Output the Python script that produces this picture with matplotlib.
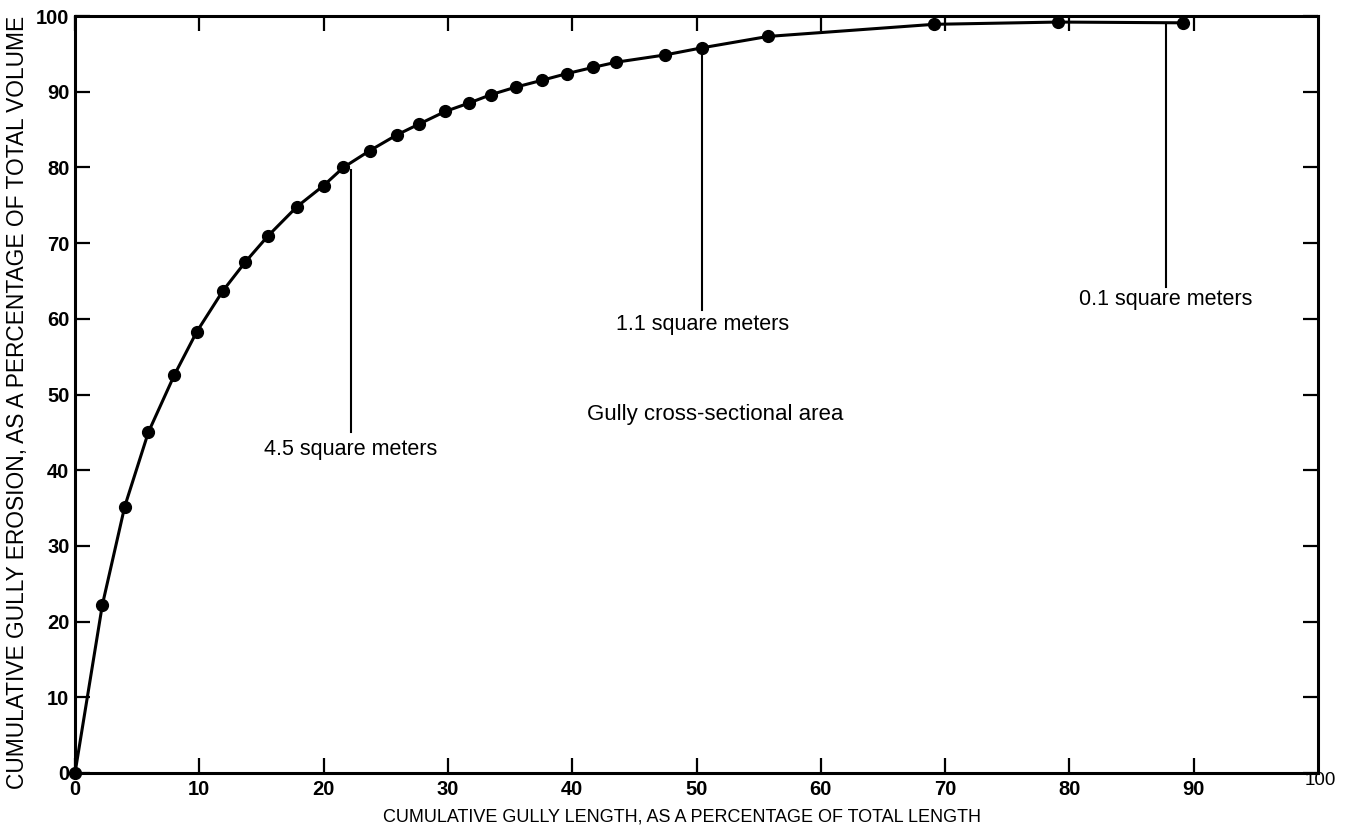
import matplotlib
matplotlib.use('Agg')
import matplotlib.pyplot as plt

# cumulative gully length (%) and cumulative erosion (%)
length_pct = [0, 2.2, 4.0, 5.9, 8.0, 9.8, 11.9, 13.7, 15.5, 17.85, 20.0, 21.6,
              23.7, 25.9, 27.65, 29.8, 31.7, 33.45, 35.45, 37.55, 39.6, 41.65,
              43.55, 47.45, 50.45, 55.75, 69.1, 79.1, 89.1]
erosion_pct = [0, 22.2, 35.2, 45.0, 52.6, 58.3, 63.7, 67.5, 70.9, 74.8, 77.6, 80.0,
               82.2, 84.3, 85.7, 87.4, 88.5, 89.6, 90.6, 91.5, 92.4, 93.2,
               93.9, 94.85, 95.8, 97.3, 98.9, 99.2, 99.1]

# annotation leaders: x position, top, bottom, label, label y
ann_x = [22.2, 50.45, 87.75]
ann_top = [79.6, 95.4, 98.8]
ann_bottom = [45.0, 61.2, 64.2]
ann_text = ['4.5 square meters', '1.1 square meters', '0.1 square meters']
ann_text_y = [42.8, 59.3, 62.5]

ticks = [0, 10, 20, 30, 40, 50, 60, 70, 80, 90]

sans = ['Liberation Sans', 'DejaVu Sans']

fig = plt.figure(figsize=(13.48, 8.35), dpi=100)
ax = fig.add_axes([75 / 1348, 62 / 835, 1243 / 1348, 757 / 835])

ax.plot(length_pct, erosion_pct, color='black', lw=2.2, marker='o', ms=8.5,
        clip_on=False, zorder=3)

for x, top, bot, txt, ty in zip(ann_x, ann_top, ann_bottom, ann_text, ann_text_y):
    ax.plot([x, x], [bot, top], color='black', lw=1.5)
    ax.text(x, ty, txt, ha='center', va='center', fontsize=15.5, family=sans)

ax.text(51.5, 47.4, 'Gully cross-sectional area', ha='center', va='center',
        fontsize=16, family=sans)

ax.set_xlim(0, 100)
ax.set_ylim(0, 100)
ax.set_xticks(ticks)
ax.set_yticks(ticks + [100])
ax.tick_params(direction='in', length=11, width=1.6, top=True, right=True,
               labelsize=14.5, pad=5)
for lab in ax.get_xticklabels() + ax.get_yticklabels():
    lab.set_family(sans)
    lab.set_fontweight('bold')
ax.tick_params(axis='y', pad=4)
ax.text(100.2, -1.0, '100', ha='center', va='center', fontsize=13.5, family=sans)

for sp in ax.spines.values():
    sp.set_linewidth(2.2)

ax.set_xlabel('CUMULATIVE GULLY LENGTH, AS A PERCENTAGE OF TOTAL LENGTH',
              fontsize=13, family=sans)
ax.set_ylabel('CUMULATIVE GULLY EROSION, AS A PERCENTAGE OF TOTAL VOLUME',
              fontsize=16.4, family=sans)
ax.xaxis.label.set_va('center')
ax.yaxis.label.set_va('center')
ax.xaxis.set_label_coords(0.488, -0.058)
ax.yaxis.set_label_coords(-0.046, 0.49)

fig.savefig('out.png', dpi=100)
